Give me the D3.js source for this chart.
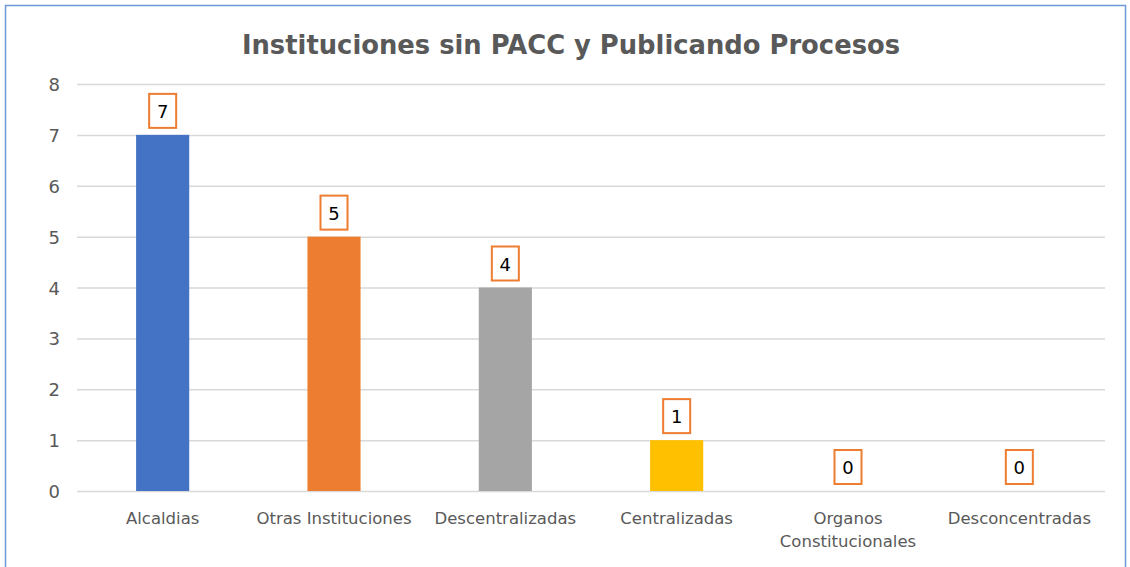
<!DOCTYPE html>
<html>
<head>
<meta charset="utf-8">
<script src="https://cdn.jsdelivr.net/npm/d3@7"></script>
<style>
  body { margin: 0; background: #fff; }
  svg { display: block; }
</style>
</head>
<body>
<svg id="chart" width="1130" height="567"></svg>
<script>
const categories = ['Alcaldias', 'Otras Instituciones', 'Descentralizadas', 'Centralizadas', 'Organos Constitucionales', 'Desconcentradas']
const values = [7, 5, 4, 1, 0, 0]
const barColors = ['#4472C4', '#ED7D31', '#A5A5A5', '#FFC000', '#5B9BD5', '#70AD47']
const yTicks = [0, 1, 2, 3, 4, 5, 6, 7, 8]
const title = 'Instituciones sin PACC y Publicando Procesos'

const width = 1130
const height = 567
const margin = { top: 84, right: 25, bottom: 76, left: 77 }

const svg = d3.select('#chart')
const font = 'DejaVu Sans, Verdana, sans-serif'

// chart frame
svg.append('rect')
  .attr('x', 5.5).attr('y', 5.5)
  .attr('width', 1120).attr('height', 570)
  .attr('fill', '#fff')
  .attr('stroke', '#6F98D6')
  .attr('stroke-width', 1.5)

svg.append('text')
  .attr('x', 571).attr('y', 54)
  .attr('text-anchor', 'middle')
  .attr('font-family', font)
  .attr('font-weight', 'bold')
  .attr('font-size', 25.8)
  .attr('fill', '#595959')
  .text(title)

const xScale = d3.scaleBand()
  .domain(categories)
  .range([margin.left, width - margin.right])
  .paddingInner(0.69)
  .paddingOuter(0.345)

const yScale = d3.scaleLinear()
  .domain([0, 8])
  .range([height - margin.bottom, margin.top])

// gridlines
svg.append('g')
  .selectAll('line')
  .data(yTicks)
  .join('line')
  .attr('x1', margin.left)
  .attr('x2', width - margin.right)
  .attr('y1', (d) => yScale(d) + 0.5)
  .attr('y2', (d) => yScale(d) + 0.5)
  .attr('stroke', '#D9D9D9')
  .attr('stroke-width', 1.5)

// y tick labels
svg.append('g')
  .selectAll('text')
  .data(yTicks)
  .join('text')
  .attr('x', 60)
  .attr('y', (d) => yScale(d) + 7)
  .attr('text-anchor', 'end')
  .attr('font-family', font)
  .attr('font-size', 18)
  .attr('fill', '#595959')
  .text((d) => d)

// bars
svg.append('g')
  .selectAll('rect')
  .data(values)
  .join('rect')
  .attr('x', (d, i) => xScale(categories[i]))
  .attr('y', (d) => yScale(d))
  .attr('width', xScale.bandwidth())
  .attr('height', (d) => yScale(0) - yScale(d))
  .attr('fill', (d, i) => barColors[i])

// data labels
const labels = svg.append('g')
  .selectAll('g')
  .data(values)
  .join('g')
  .attr('transform', (d, i) => `translate(${xScale(categories[i]) + xScale.bandwidth() / 2}, ${yScale(d) - 7})`)

labels.append('rect')
  .attr('x', -13.5).attr('y', -34)
  .attr('width', 27).attr('height', 34)
  .attr('fill', '#fff')
  .attr('stroke', '#ED7D31')
  .attr('stroke-width', 2)

labels.append('text')
  .attr('y', -10)
  .attr('text-anchor', 'middle')
  .attr('font-family', font)
  .attr('font-size', 18)
  .attr('fill', '#000')
  .text((d) => d)

// category labels
const catLines = {
  'Organos Constitucionales': ['Organos', 'Constitucionales']
}
const cats = svg.append('g')
  .selectAll('text')
  .data(categories)
  .join('text')
  .attr('x', (d) => xScale(d) + xScale.bandwidth() / 2)
  .attr('y', 524)
  .attr('text-anchor', 'middle')
  .attr('font-family', font)
  .attr('font-size', 16.5)
  .attr('fill', '#595959')

cats.selectAll('tspan')
  .data((d) => catLines[d] || [d])
  .join('tspan')
  .attr('x', function () { return d3.select(this.parentNode).attr('x') })
  .attr('dy', (d, i) => (i === 0 ? 0 : 23))
  .text((d) => d)
</script>
</body>
</html>
